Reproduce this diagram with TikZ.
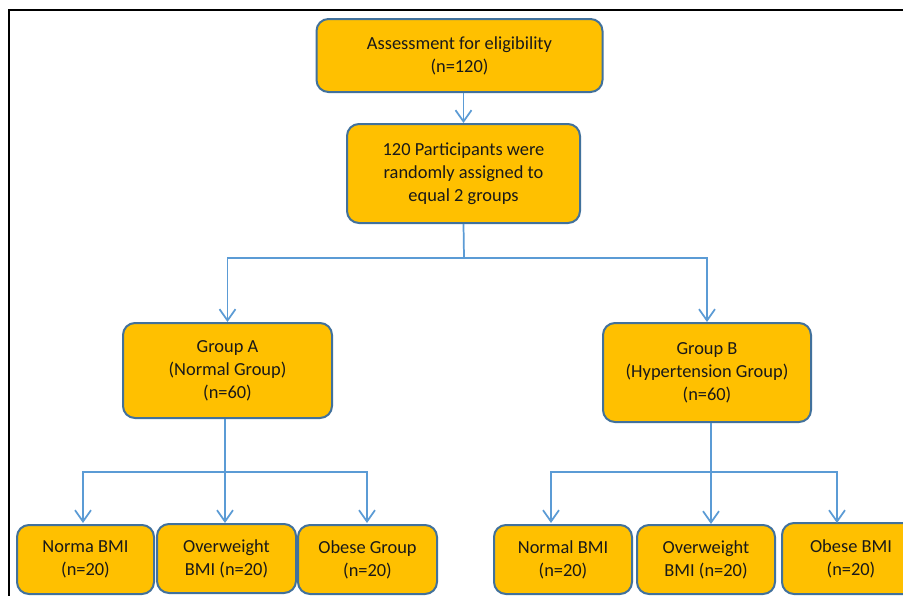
\documentclass[tikz,border=0pt]{standalone}
\usepackage{fontspec}
\setmainfont{Carlito}
\usetikzlibrary{arrows.meta,calc}
\definecolor{boxfill}{HTML}{FFC000}
\definecolor{boxline}{HTML}{41719C}
\definecolor{conn}{HTML}{5B9BD5}
\begin{document}
\begin{tikzpicture}[x=0.75pt,y=-0.75pt,
  flowbox/.style={draw=boxline, line width=1.5pt, fill=boxfill, rounded corners=9pt,
    align=center, inner sep=2pt, font=\fontsize{13.8}{17.2}\selectfont, text=black!90},
  arr/.style={draw=conn, line width=1.3pt, -{Straight Barb[length=8.5pt,width=12pt,line width=1.3pt]}},
  ln/.style={draw=conn, line width=1.3pt}]
\useasboundingbox (0,0) rectangle (903,596);
\clip (0,0) rectangle (903,596);
\fill[white] (0,0) rectangle (903,596);
\draw[black, line width=1pt] (9,620) -- (9,10) -- (930,10);

\node[flowbox, minimum width=286*0.75pt, minimum height=73*0.75pt] (assess) at (459.5,55.5)
  {Assessment for eligibility\\(n=120)};
\node[flowbox, minimum width=233*0.75pt, minimum height=99*0.75pt] (rand) at (463.5,173.5)
  {120 Participants were\\randomly assigned to\\equal 2 groups};
\node[flowbox, minimum width=209*0.75pt, minimum height=95*0.75pt] (ga) at (227.5,370.5)
  {Group A\\(Normal Group)\\(n=60)};
\node[flowbox, minimum width=208*0.75pt, minimum height=99*0.75pt] (gb) at (707,372.5)
  {Group B\\(Hypertension Group)\\(n=60)};

\node[flowbox, minimum width=137*0.75pt, minimum height=69*0.75pt] (a1) at (85.5,559.5)
  {Norma BMI\\(n=20)};
\node[flowbox, minimum width=139*0.75pt, minimum height=69*0.75pt] (a2) at (226.5,558.5)
  {Overweight\\BMI (n=20)};
\node[flowbox, minimum width=139*0.75pt, minimum height=69*0.75pt] (a3) at (367.5,559.5)
  {Obese Group\\(n=20)};
\node[flowbox, minimum width=138*0.75pt, minimum height=69*0.75pt] (b1) at (563,559.5)
  {Normal BMI\\(n=20)};
\node[flowbox, minimum width=138*0.75pt, minimum height=69*0.75pt] (b2) at (706,559.5)
  {Overweight\\BMI (n=20)};
\node[flowbox, minimum width=138*0.75pt, minimum height=71*0.75pt] (b3) at (851,558.5)
  {Obese BMI\\(n=20)};

% connectors
\draw[arr] (assess.south -| rand.north) -- (rand.north);
\coordinate (j1) at (464,258);
\draw[ln] (rand.south) -- (j1);
\draw[arr] (j1) -| (ga.north);
\draw[arr] (j1) -| (gb.north);

\coordinate (ja) at (225,472);
\draw[ln] (ga.south -| ja) -- (ja);
\draw[arr] (ja) -| (83,523);
\draw[arr] (ja) -- (a2.north -| ja);
\draw[arr] (ja) -| (367,523);

\coordinate (jb) at (711,472);
\draw[ln] (gb.south -| jb) -- (jb);
\draw[arr] (jb) -| (551,523);
\draw[arr] (jb) -- (b2.north -| jb);
\draw[arr] (jb) -| (837,523);
\end{tikzpicture}
\end{document}
